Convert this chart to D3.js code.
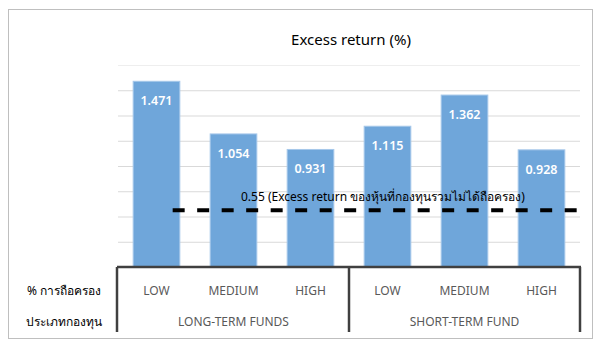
<!DOCTYPE html>
<html><head><meta charset="utf-8">
<script src="https://cdn.jsdelivr.net/npm/d3@7"></script>
<style>
html,body{margin:0;padding:0;background:#fff;}
svg{display:block;}
text{font-family: Tahoma, "Noto Sans", "Liberation Sans", sans-serif;}
</style></head>
<body><svg id="c" width="610" height="350"></svg>
<script>
const holdings = ["LOW","MEDIUM","HIGH","LOW","MEDIUM","HIGH"];
const fundTypes = ["LONG-TERM FUNDS","SHORT-TERM FUND"];
const values = [1.471,1.054,0.931,1.115,1.362,0.928];
const valueLabels = ["1.471","1.054","0.931","1.115","1.362","0.928"];
const yTicks = [0,0.2,0.4,0.6,0.8,1.0,1.2,1.4,1.6];
const refLineValue = 0.45;
const refLabel = "0.55 (Excess return ของหุ้นที่กองทุนรวมไม่ได้ถือครอง)";
const title = "Excess return (%)";
const rowLabels = ["% การถือครอง","ประเภทกองทุน"];

const svg = d3.select("#c");
const L = 118, R = 580, T = 65, B = 267;
const ids = d3.range(values.length);
const x = d3.scaleBand().domain(ids).range([L, R]).paddingInner(0.394).paddingOuter(0.197);
const xOuter = d3.scaleBand().domain(ids).range([L, R]);
const y = d3.scaleLinear().domain([0, 1.6]).range([B, T]);

// outer frame
svg.append("rect").attr("x",8.5).attr("y",9.5).attr("width",584).attr("height",329)
  .attr("fill","#fff").attr("stroke","#bfbfbf").attr("stroke-width",1);

// title
svg.append("text").attr("x",(L+R)/2 + 2).attr("y",45).attr("text-anchor","middle")
  .attr("font-size",15).attr("fill","#000").text(title);

// gridlines
const yAxis = d3.axisLeft(y).tickValues(yTicks.slice(1)).tickSize(-(R-L)).tickFormat("");
const g = svg.append("g").attr("transform",`translate(${L},0)`).call(yAxis);
g.select(".domain").remove();
g.selectAll(".tick line").attr("stroke","#d9d9d9").attr("stroke-width",1);
g.selectAll(".tick").filter(d => d === 1.6).select("line").attr("stroke","#eeeeee");

// bars
svg.selectAll("rect.bar").data(ids).join("rect").attr("class","bar")
  .attr("x", i => x(i)).attr("width", x.bandwidth())
  .attr("y", i => y(values[i])).attr("height", i => y(0) - y(values[i]))
  .attr("fill","#6fa6da").attr("stroke","#a6c8ea").attr("stroke-width",1);

svg.selectAll("text.val").data(ids).join("text").attr("class","val")
  .attr("x", i => x(i) + x.bandwidth()/2).attr("y", i => y(values[i]) + 24)
  .attr("text-anchor","middle").attr("font-size",12.5).attr("font-weight","600").attr("fill","#fff")
  .text(i => valueLabels[i]);

// reference dashed line
const lineStart = xOuter(0) + xOuter.bandwidth()*0.71;
svg.append("line").attr("x1", lineStart).attr("x2", R)
  .attr("y1", y(refLineValue)).attr("y2", y(refLineValue))
  .attr("stroke","#000").attr("stroke-width",4).attr("stroke-dasharray","12,12.5");
svg.append("text").attr("x",241).attr("y", y(refLineValue)-9)
  .attr("font-size",12).attr("fill","#000").text(refLabel);

// category axis box
const ax = svg.append("g").attr("stroke","#404040").attr("stroke-width",2.5).attr("fill","none");
ax.append("line").attr("x1",L-1).attr("x2",R+1).attr("y1",B).attr("y2",B);
const dividers = [L-1, xOuter(3), R];
dividers.forEach(dx => ax.append("line").attr("x1",dx).attr("x2",dx).attr("y1",B).attr("y2",332));

svg.selectAll("text.cat").data(ids).join("text").attr("class","cat")
  .attr("x", i => xOuter(i) + xOuter.bandwidth()/2).attr("y", 295)
  .attr("text-anchor","middle").attr("font-size",12).attr("fill","#595959")
  .text(i => holdings[i]);

svg.selectAll("text.grp").data(fundTypes).join("text").attr("class","grp")
  .attr("x", (d,j) => (xOuter(j*3) + xOuter(j*3+2) + xOuter.bandwidth())/2).attr("y", 326)
  .attr("text-anchor","middle").attr("font-size",12).attr("fill","#595959")
  .text(d => d);

svg.selectAll("text.row").data(rowLabels).join("text").attr("class","row")
  .attr("x", 64).attr("y", (d,j) => j === 0 ? 295 : 326)
  .attr("text-anchor","middle").attr("font-size",12).attr("fill","#000")
  .text(d => d);
</script></body></html>
